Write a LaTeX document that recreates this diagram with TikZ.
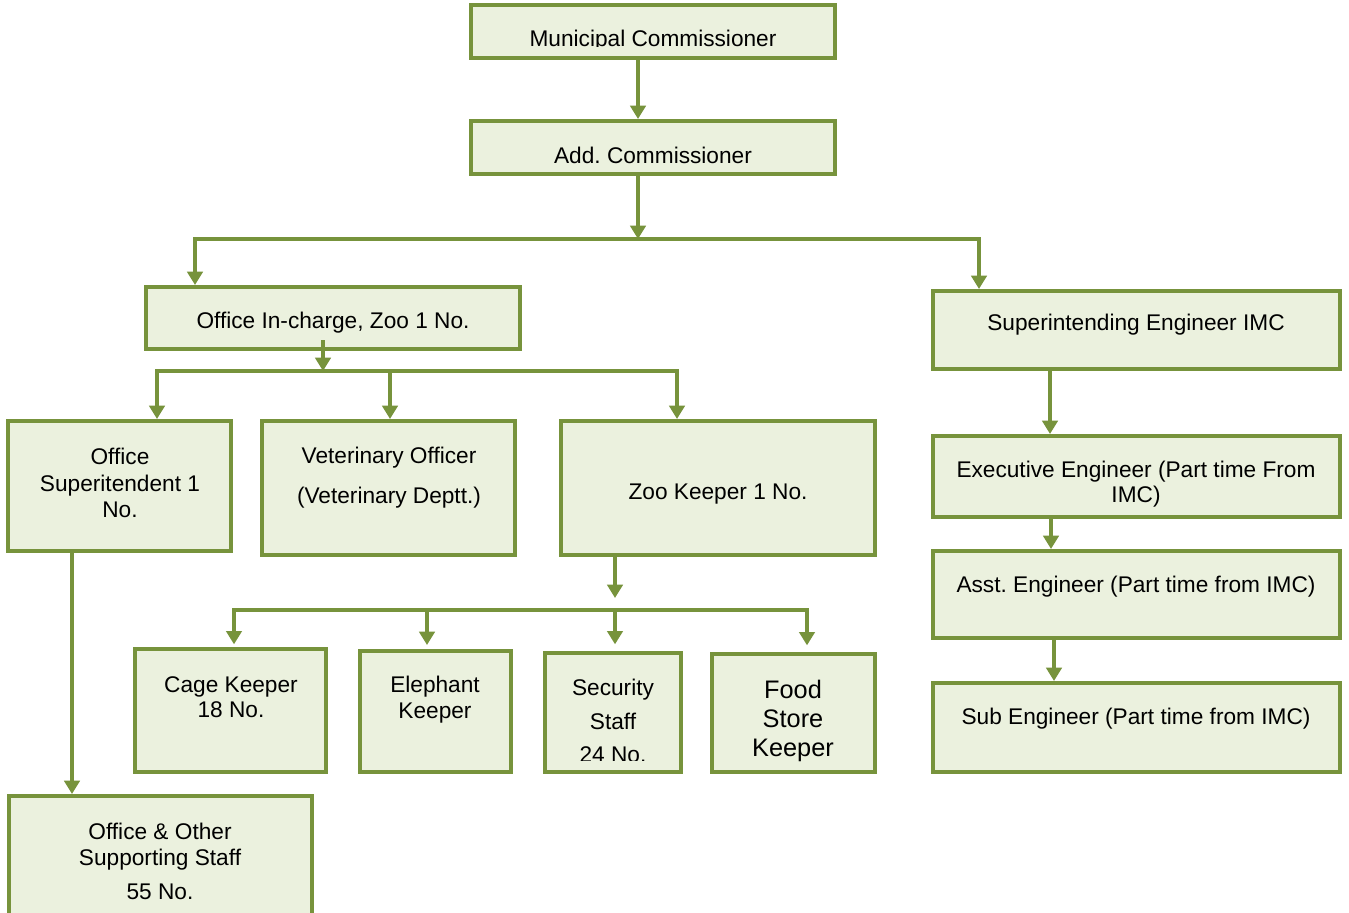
\documentclass[tikz,border=0pt]{standalone}
\usepackage{fontspec}
\setmainfont{Liberation Sans}
\usetikzlibrary{arrows.meta,fit,calc}
\definecolor{bord}{HTML}{77933C}
\definecolor{boxfill}{HTML}{EBF1DE}
\frenchspacing
\begin{document}
\frenchspacing
\begin{tikzpicture}[x=0.75pt,y=-0.75pt,
  box/.style={draw=bord,fill=boxfill,line width=3pt,inner sep=0pt},
  txt/.style={align=center,font=\fontsize{17}{20}\selectfont,text=black,inner sep=0pt},
  ln/.style={draw=bord,line width=2.6pt,line cap=rect},
  arr/.style={ln,-{Triangle[width=11.5pt,length=10pt]}}]
\useasboundingbox (0,0) rectangle (1349,913);
\fill[white] (0,0) rectangle (1349,913);

% boxes
\node[box,fit={(471,5)(835,58)}] (mc) {};
\node[box,fit={(471,121)(835,174)}] (ac) {};
\node[box,fit={(146,287)(520,349)}] (oic) {};
\node[box,fit={(933,291)(1340,369)}] (se) {};
\node[box,fit={(8,421)(231,551)}] (os) {};
\node[box,fit={(262,421)(515,555)}] (vo) {};
\node[box,fit={(561,421)(875,555)}] (zk) {};
\node[box,fit={(135,649)(326,772)}] (ck) {};
\node[box,fit={(360,651)(511,772)}] (ek) {};
\node[box,fit={(545,653)(681,772)}] (ss) {};
\node[box,fit={(712,654)(875,772)}] (fk) {};
\node[box,fit={(9,796)(312,930)}] (oo) {};
\node[box,fit={(933,436)(1340,517)}] (ee) {};
\node[box,fit={(933,551)(1340,638)}] (ae) {};
\node[box,fit={(933,683)(1340,772)}] (sub) {};

% texts
\begin{scope}
  \clip (471,5) rectangle (835,47);
  \node[txt] (tmc) at (653,41) {Municipal Commissioner};
\end{scope}
\node[txt] (tac) at (653,155) {Add. Commissioner};
\node[txt] (toic) at (333,323) {Office In-charge, Zoo 1 No.};
\node[txt] (tse) at (1136,325) {Superintending Engineer IMC};
\node[txt,font=\fontsize{17}{20}\selectfont] (tos) at (120,483) {Office\\Superitendent 1\\No.};
\node[txt,font=\fontsize{17}{30}\selectfont] (tvo) at (389,478) {Veterinary Officer\\(Veterinary Deptt.)};
\node[txt] (tzk) at (718,494) {Zoo Keeper 1 No.};
\node[txt,font=\fontsize{17}{19}\selectfont] (tck) at (231,697) {Cage Keeper\\18 No.};
\node[txt,font=\fontsize{17}{19.5}\selectfont] (tek) at (435,700) {Elephant\\Keeper};
\begin{scope}
  \clip (545,653) rectangle (681,760);
  \node[txt,font=\fontsize{17}{25}\selectfont] (tss) at (613,721) {Security\\Staff\\24 No.};
\end{scope}
\node[txt,font=\fontsize{19}{22}\selectfont] (tfk) at (793,721) {Food\\Store\\Keeper};
\node[txt,font=\fontsize{17}{19.5}\selectfont] (too) at (160,861) {Office \& Other\\Supporting Staff\\[6pt]55 No.};
\node[txt,font=\fontsize{17}{19}\selectfont] (tee) at (1136,484) {Executive Engineer (Part time From\\IMC)};
\node[txt] (tae) at (1136,587) {Asst. Engineer (Part time from IMC)};
\node[txt] (tsub) at (1136,719) {Sub Engineer (Part time from IMC)};

% connectors: top
\coordinate (j0) at (638,239);
\coordinate (jl) at (195,239);
\coordinate (jr) at (979,239);
\draw[arr] (mc.south -| j0) -- (ac.north -| j0);
\draw[arr] (ac.south -| j0) -- (j0);
\draw[ln] (jl) -- (jr);
\draw[arr] (jl) -- (jl |- oic.north);
\draw[arr] (jr) -- (jr |- se.north);

% office in-charge branch
\coordinate (j1) at (323,371);
\coordinate (j1l) at (157,371);
\coordinate (j1m) at (390,371);
\coordinate (j1r) at (677,371);
\draw[arr] ($(oic.south -| j1)+(0,-9)$) -- (j1);
\draw[ln] (j1l) -- (j1r);
\draw[arr] (j1l) -- (j1l |- os.north);
\draw[arr] (j1m) -- (j1m |- vo.north);
\draw[arr] (j1r) -- (j1r |- zk.north);

% zoo keeper branch
\coordinate (j2) at (615,598);
\coordinate (j2l) at (234,610);
\coordinate (j2a) at (427,610);
\coordinate (j2b) at (615,610);
\coordinate (j2r) at (807,610);
\draw[arr] (zk.south -| j2) -- (j2);
\draw[ln] (j2l) -- (j2r);
\draw[arr,shorten >=2pt] (j2l) -- (j2l |- ck.north);
\draw[arr,shorten >=3pt] (j2a) -- (j2a |- ek.north);
\draw[arr,shorten >=5pt] (j2b) -- (j2b |- ss.north);
\draw[arr,shorten >=5pt] (j2r) -- (j2r |- fk.north);

% office superintendent to staff
\coordinate (c3) at (72,0);
\draw[arr] (os.south -| c3) -- (oo.north -| c3);

% engineering column
\coordinate (c4) at (1050,0);
\coordinate (c5) at (1051,0);
\coordinate (c6) at (1054,0);
\draw[arr] (se.south -| c4) -- (ee.north -| c4);
\draw[arr] (ee.south -| c5) -- (ae.north -| c5);
\draw[arr] (ae.south -| c6) -- (sub.north -| c6);
\end{tikzpicture}
\end{document}
